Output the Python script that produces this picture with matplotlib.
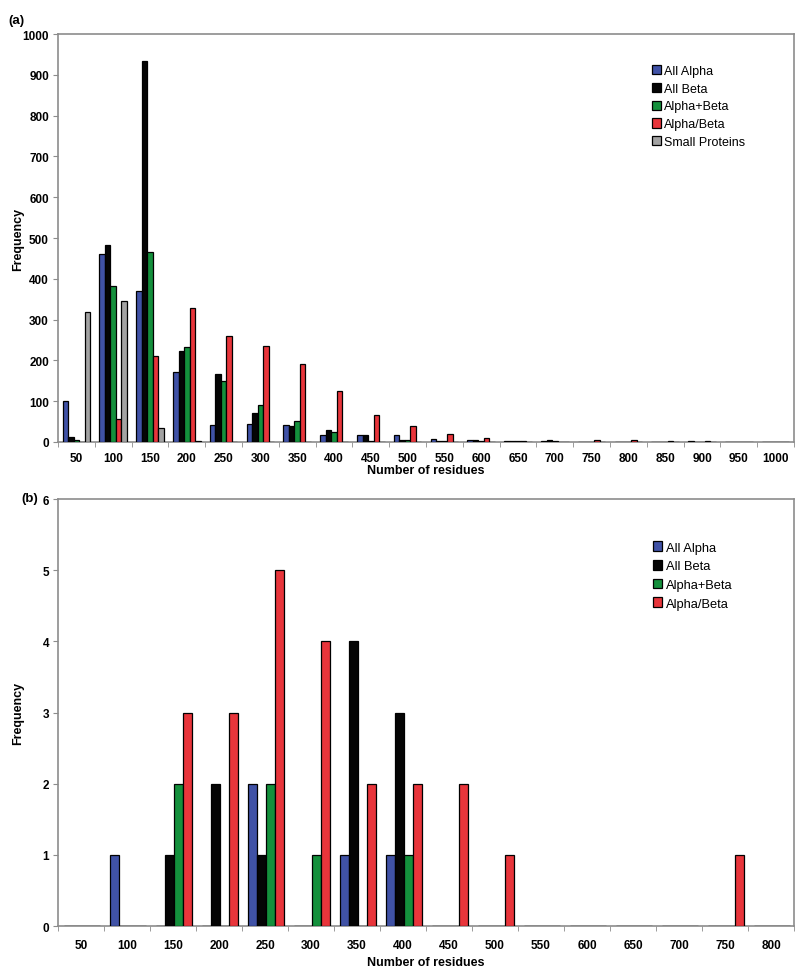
import matplotlib
matplotlib.use("Agg")
import matplotlib.pyplot as plt
import numpy as np
from matplotlib.patches import Patch

plt.rcParams['font.family'] = ['Liberation Sans', 'DejaVu Sans']

# ---- Panel (a) data ----
cats_a = ["50", "100", "150", "200", "250", "300", "350", "400", "450", "500",
          "550", "600", "650", "700", "750", "800", "850", "900", "950", "1000"]
all_alpha_a = [100, 460, 370, 172, 42, 43, 42, 17, 18, 18, 7, 5, 2, 3, 0, 0, 0, 3, 0, 0]
all_beta_a = [12, 483, 935, 222, 167, 70, 38, 30, 18, 5, 2, 5, 2, 5, 0, 0, 0, 0, 0, 0]
alpha_plus_beta_a = [5, 383, 465, 233, 150, 90, 52, 25, 3, 5, 3, 3, 2, 2, 0, 0, 0, 0, 0, 0]
alpha_slash_beta_a = [0, 57, 210, 328, 260, 235, 190, 125, 65, 40, 20, 10, 3, 0, 4, 4, 3, 3, 0, 0]
small_proteins_a = [318, 345, 35, 3, 0, 0, 0, 0, 0, 0, 0, 0, 0, 0, 0, 0, 0, 0, 0, 0]

# ---- Panel (b) data ----
cats_b = ["50", "100", "150", "200", "250", "300", "350", "400", "450", "500",
          "550", "600", "650", "700", "750", "800"]
all_alpha_b = [0, 1, 0, 0, 2, 0, 1, 1, 0, 0, 0, 0, 0, 0, 0, 0]
all_beta_b = [0, 0, 1, 2, 1, 0, 4, 3, 0, 0, 0, 0, 0, 0, 0, 0]
alpha_plus_beta_b = [0, 0, 2, 0, 2, 1, 0, 1, 0, 0, 0, 0, 0, 0, 0, 0]
alpha_slash_beta_b = [0, 0, 3, 3, 5, 4, 2, 2, 2, 1, 0, 0, 0, 0, 1, 0]

series_names = ["All Alpha", "All Beta", "Alpha+Beta", "Alpha/Beta", "Small Proteins"]
colors = ["#4052a6", "#050505", "#14903c", "#e8353b", "#a3a3a3"]
axis_gray = "#8c8c8c"

fig = plt.figure(figsize=(8, 9.7), dpi=100)
ax1 = fig.add_axes([0.0725, 0.5433, 0.92, 0.4206])
ax2 = fig.add_axes([0.0725, 0.0443, 0.92, 0.4402])


def draw(ax, cats, series, names, ymax, ystep, bw, pad, legend_pos,
         xpad, xlabelpad, legfs, legsp):
    n = len(cats)
    x = np.arange(n)
    for k, (vals, name) in enumerate(zip(series, names)):
        ax.bar(x + pad + k * bw, vals, width=bw, align='edge',
               color=colors[k], edgecolor='black', linewidth=0.9, zorder=3)
    ax.set_xlim(0, n)
    ax.set_ylim(0, ymax)
    yt = np.arange(0, ymax + ystep / 2, ystep)
    ax.set_yticks(yt)
    ax.set_yticklabels([f"{int(v)}" for v in yt], fontsize=8.5, fontweight='bold')
    ax.set_xticks(x + 0.5)
    ax.set_xticklabels(cats, fontsize=8.5, fontweight='bold')
    ax.set_xticks(np.arange(0, n + 1), minor=True)
    ax.tick_params(axis='x', which='major', length=0, pad=xpad)
    ax.tick_params(axis='x', which='minor', length=3.5, color=axis_gray, direction='out')
    ax.tick_params(axis='y', length=3.5, color=axis_gray, direction='out', pad=3)
    for s in ax.spines.values():
        s.set_color(axis_gray)
        s.set_linewidth(1.2)
    ax.set_xlabel("Number of residues", fontsize=9, fontweight='bold', labelpad=xlabelpad)
    ax.set_ylabel("Frequency", fontsize=9, fontweight='bold')
    ax.yaxis.set_label_coords(-0.046, 0.5)
    handles = [Patch(facecolor=colors[k], edgecolor='black', linewidth=0.9)
               for k in range(len(names))]
    ax.legend(handles, names, loc='upper left', bbox_to_anchor=legend_pos,
              frameon=False, fontsize=legfs, handlelength=0.75, handleheight=0.75,
              handletextpad=0.25, labelspacing=legsp, borderaxespad=0)


draw(ax1, cats_a,
     [all_alpha_a, all_beta_a, alpha_plus_beta_a, alpha_slash_beta_a, small_proteins_a],
     series_names, 1000, 100, 0.15, 0.125, (0.800, 0.937), 7, 0, 9, 0.47)
draw(ax2, cats_b,
     [all_alpha_b, all_beta_b, alpha_plus_beta_b, alpha_slash_beta_b],
     series_names[:4], 6, 1, 0.2, 0.12, (0.801, 0.913), 9, 4, 9.3, 0.5)

fig.text(0.010, 0.985, "(a)", fontsize=9.5, fontweight='bold', va='top')
fig.text(0.027, 0.492, "(b)", fontsize=9.5, fontweight='bold', va='top')

fig.savefig("out.png", dpi=100)
